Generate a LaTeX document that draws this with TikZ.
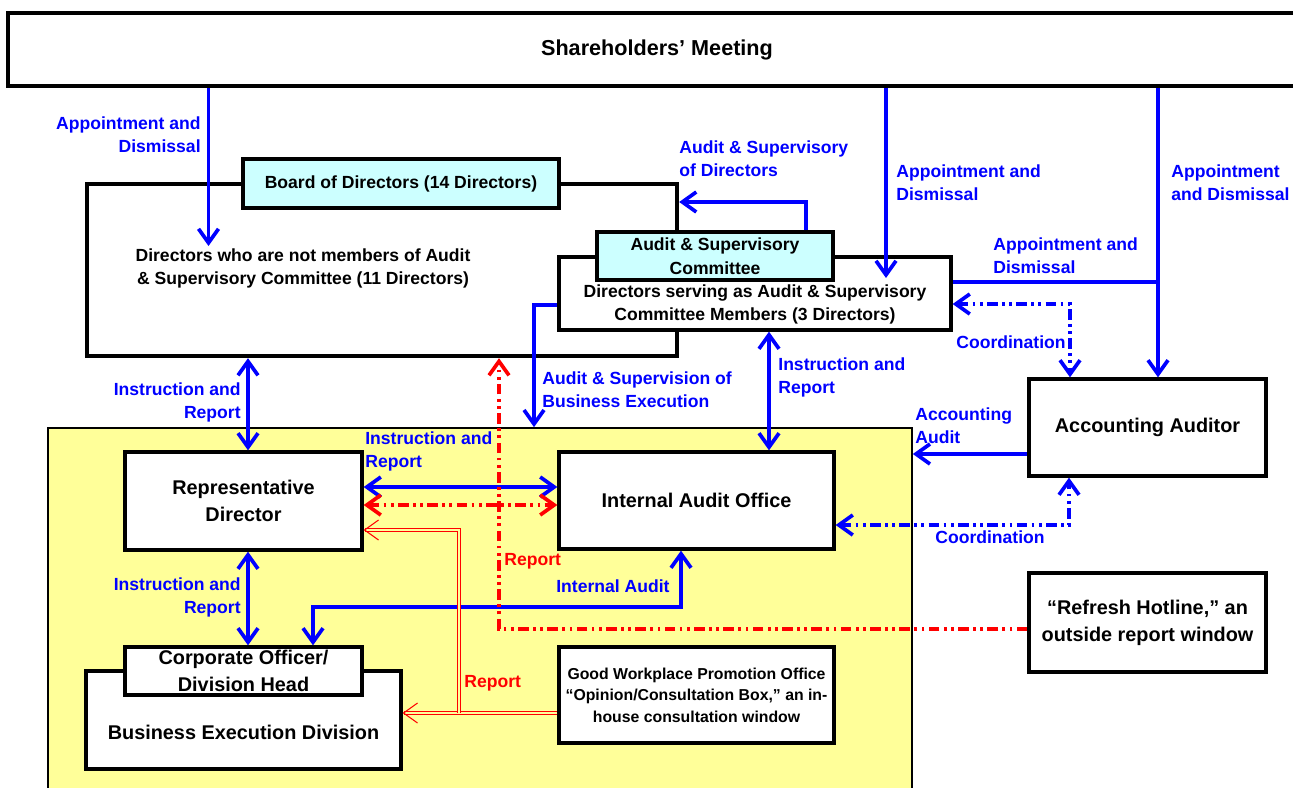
\documentclass[tikz,border=0pt]{standalone}
\usepackage{fontspec}
\setmainfont{Liberation Sans}
\usetikzlibrary{arrows.meta, positioning, calc}
\definecolor{cyanbg}{RGB}{204,255,255}
\definecolor{yellowbg}{RGB}{255,255,153}

\begin{document}
\begin{tikzpicture}[x=0.02cm, y=-0.02cm,
    >={Straight Barb[length=2.8mm, width=4mm]},
    caja/.style={rectangle, draw, line width=1.9pt, fill=white, align=center, inner sep=2pt, font=\bfseries\fontsize{11.3}{15.3}\selectfont},
    cajacyan/.style={caja, fill=cyanbg, inner sep=0pt, font=\bfseries\fontsize{10}{13.6}\selectfont},
    texto/.style={align=center, inner sep=0pt, font=\bfseries\fontsize{10}{13}\selectfont},
    etiqueta/.style={text=blue, inner sep=0pt, font=\bfseries\fontsize{10}{13}\selectfont},
    etiquetaroja/.style={etiqueta, text=red},
    flecha/.style={draw=blue, line width=2.1pt},
    coordina/.style={flecha, dash pattern=on 6pt off 2.5pt on 1.6pt off 2.5pt on 1.6pt off 2.5pt},
    rojo/.style={draw=red, line width=2.1pt, dash pattern=on 6pt off 2.5pt on 1.6pt off 2.5pt on 1.6pt off 2.5pt},
    rojodoble/.style={draw=red, line width=0.6pt, double=yellowbg, double distance=1.4pt}
  ]
  \useasboundingbox (0,0) rectangle (1293,787);

  % Area de ejecucion
  \node[rectangle, draw, line width=1pt, fill=yellowbg, minimum width=17.28cm, minimum height=7.44cm] (bizarea) at (480,614) {};

  % Junta de accionistas
  \node[caja, minimum width=25.96cm, minimum height=1.46cm, font=\bfseries\fontsize{12.3}{15}\selectfont] (share) at (657,49.5) {Shareholders’ Meeting};

  % Consejo
  \node[caja, line width=2.5pt, minimum width=11.8cm, minimum height=3.44cm] (board) at (382,270) {};
  \node[cajacyan, minimum width=6.32cm, minimum height=0.98cm] (boardlbl) at (401,183.5) {Board of Directors (14 Directors)};
  \node[texto] (nonmem) at (303,268.5) {Directors who are not members of Audit\\\& Supervisory Committee (11 Directors)};

  % Comite de auditoria
  \node[caja, minimum width=7.84cm, minimum height=1.46cm] (acmem) at (755,293.5) {};
  \node[texto] (acmemtxt) at (755,304.5) {Directors serving as Audit \& Supervisory\\Committee Members (3 Directors)};
  \node[cajacyan, minimum width=4.72cm, minimum height=0.96cm] (accom) at (715,256) {Audit \& Supervisory\\Committee};

  % Auditor contable
  \node[caja, minimum width=4.74cm, minimum height=1.94cm] (audit) at (1147.5,427.5) {Accounting Auditor};

  % Linea externa
  \node[caja, minimum width=4.74cm, minimum height=1.98cm] (hotline) at (1147.5,622.5) {“Refresh Hotline,” an\\outside report window};

  % Director representante
  \node[caja, minimum width=4.74cm, minimum height=1.96cm] (rep) at (243.5,501) {Representative\\Director};

  % Auditoria interna
  \node[caja, minimum width=5.5cm, minimum height=1.94cm] (iao) at (696.5,500.5) {Internal Audit Office};

  % Division de ejecucion
  \node[caja, minimum width=6.3cm, minimum height=1.96cm] (bed) at (243.5,720) {};
  \node[texto, font=\bfseries\fontsize{11.3}{15.3}\selectfont] (bedtxt) at (243.5,732) {Business Execution Division};
  \node[caja, inner sep=0pt, minimum width=4.74cm, minimum height=0.96cm] (corp) at (243.5,671) {Corporate Officer/\\Division Head};

  % Buzon de consulta
  \node[caja, minimum width=5.5cm, minimum height=1.92cm, font=\bfseries\fontsize{9}{12.2}\selectfont] (gwp) at (696.5,695) {Good Workplace Promotion Office\\“Opinion/Consultation Box,” an in-\\house consultation window};

  % Puntos de quiebre
  \coordinate (apA) at (208.5,246);
  \coordinate (asd) at (806,202);
  \coordinate (apB) at (886,278);
  \coordinate (apC) at (1158,282);
  \coordinate (coA) at (1070,304);
  \coordinate (asb) at (534,305);
  \coordinate (irA) at (769,390);
  \coordinate (irB) at (248,400);
  \coordinate (irC) at (460,487);
  \coordinate (rdA) at (460,505);
  \coordinate (iaA) at (681,607);
  \coordinate (iaB) at (313,607);
  \coordinate (aaA) at (970,454);
  \coordinate (coB) at (1069,525);
  \coordinate (rpA) at (499,629);
  \coordinate (rbA) at (459,713);
  \coordinate (rbB) at (459,530);

  % Nombramiento y destitucion
  \draw[flecha,->] (share.south -| apA) -- (apA);
  \draw[flecha,->] (share.south -| apB) -- (apB);
  \draw[flecha,->] (share.south -| apC) -- (audit.north -| apC);
  \draw[flecha] (apC) -- (acmem.east |- apC);

  % Auditoria de directores
  \draw[flecha,->] (accom.north -| asd) -- (asd) -- (board.east |- asd);
  \draw[flecha,->] (acmem.west |- asb) -- (asb) -- (bizarea.north -| asb);

  % Instruccion y reporte
  \draw[flecha,<->] (acmem.south -| irA) -- (iao.north -| irA);
  \draw[flecha,<->] (board.south -| irB) -- (rep.north -| irB);
  \draw[flecha,<->] (rep.south -| irB) -- (corp.north -| irB);
  \draw[flecha,<->] (rep.east |- irC) -- (iao.west |- irC);
  \draw[flecha,<->] (iao.south -| iaA) -- (iaA) -- (iaB) -- (corp.north -| iaB);
  \draw[flecha,->] (audit.west |- aaA) -- (bizarea.east |- aaA);

  % Coordinacion
  \draw[coordina,<->] (acmem.east |- coA) -- (coA) -- (audit.north -| coA);
  \draw[coordina,<->] (iao.east |- coB) -- (coB) -- (audit.south -| coB);

  % Reportes
  \draw[rojo,<->] (rep.east |- rdA) -- (iao.west |- rdA);
  \draw[rojo,->] (hotline.west |- rpA) -- (rpA) -- (board.south -| rpA);
  \draw[rojodoble,->] (gwp.west |- rbA) -- (bed.east |- rbA);
  \draw[rojodoble,->] (rbA) -- (rbB) -- (rep.east |- rbB);

  % Etiquetas
  \node[etiqueta, anchor=east, align=right] (lblA) at (201,134.5) {Appointment and\\Dismissal};
  \node[etiqueta, anchor=west, align=left] (lblB) at (679,158.5) {Audit \& Supervisory\\of Directors};
  \node[etiqueta, anchor=west, align=left] (lblC) at (896,182.5) {Appointment and\\Dismissal};
  \node[etiqueta, anchor=west, align=left] (lblD) at (1171,182.5) {Appointment\\and Dismissal};
  \node[etiqueta, anchor=west, align=left] (lblE) at (993,256) {Appointment and\\Dismissal};
  \node[etiqueta, anchor=east] (lblF) at (1066,342) {Coordination};
  \node[etiqueta, anchor=west, align=left] (lblG) at (542,390) {Audit \& Supervision of\\Business Execution};
  \node[etiqueta, anchor=west, align=left] (lblH) at (778,377.5) {Instruction and\\Report};
  \node[etiqueta, anchor=east, align=right] (lblI) at (241,402.5) {Instruction and\\Report};
  \node[etiqueta, anchor=west, align=left] (lblJ) at (915,426) {Accounting\\Audit};
  \node[etiqueta, anchor=west, align=left] (lblK) at (365,451.5) {Instruction and\\Report};
  \node[etiqueta, anchor=west] (lblL) at (935,537) {Coordination};
  \node[etiquetaroja, anchor=west] (lblM) at (504,561) {Report};
  \node[etiqueta, anchor=west] (lblN) at (556,586) {Internal Audit};
  \node[etiqueta, anchor=east, align=right] (lblO) at (241,597.5) {Instruction and\\Report};
  \node[etiquetaroja, anchor=west] (lblP) at (464,683) {Report};

\end{tikzpicture}
\end{document}
